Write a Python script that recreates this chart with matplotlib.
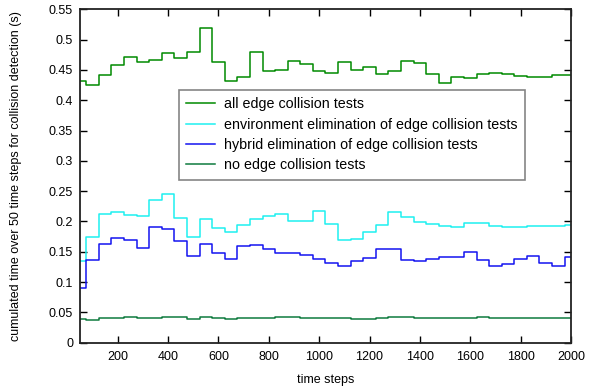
import numpy as np
import matplotlib
matplotlib.use("Agg")
import matplotlib.pyplot as plt

plt.rcParams['font.family'] = ['Liberation Sans', 'DejaVu Sans']

time_steps = list(range(50, 2001, 50))

all_edge = [0.4325, 0.4253, 0.4418, 0.4588, 0.4709, 0.4632, 0.467, 0.478, 0.470, 0.4797,
            0.520, 0.463, 0.4314, 0.438, 0.480, 0.448, 0.450, 0.465, 0.4605, 0.448,
            0.4446, 0.463, 0.4495, 0.455, 0.443, 0.4484, 0.4654, 0.4621, 0.443, 0.4286,
            0.4385, 0.436, 0.444, 0.4457, 0.443, 0.4396, 0.438, 0.439, 0.441, 0.441]

env_elim = [0.1344, 0.1738, 0.2122, 0.2155, 0.210, 0.2083, 0.235, 0.2456, 0.206, 0.1744,
            0.2044, 0.1889, 0.1822, 0.1933, 0.2044, 0.2089, 0.2122, 0.201, 0.201, 0.2172,
            0.1955, 0.170, 0.171, 0.182, 0.1944, 0.2156, 0.2066, 0.1983, 0.195, 0.1928,
            0.1911, 0.1972, 0.1972, 0.1928, 0.190, 0.190, 0.1922, 0.1922, 0.1928, 0.1944]

hybrid_elim = [0.090, 0.1366, 0.1627, 0.1727, 0.1689, 0.156, 0.1905, 0.1877, 0.1672, 0.1427,
               0.1622, 0.1483, 0.1383, 0.1589, 0.1605, 0.1544, 0.1472, 0.1472, 0.1439, 0.1383,
               0.1316, 0.1272, 0.1344, 0.140, 0.1544, 0.1544, 0.1366, 0.1339, 0.1378, 0.1411,
               0.1411, 0.1494, 0.1356, 0.1261, 0.1294, 0.1378, 0.1422, 0.1311, 0.1261, 0.1411]

no_edge = [0.039, 0.0373, 0.0401, 0.0412, 0.0417, 0.0412, 0.0412, 0.0423, 0.0423, 0.039,
           0.0423, 0.0401, 0.039, 0.0412, 0.0406, 0.0406, 0.0423, 0.0417, 0.0406, 0.0406,
           0.0406, 0.0400, 0.0395, 0.0395, 0.0406, 0.0428, 0.0417, 0.0406, 0.0406, 0.0406,
           0.0406, 0.0412, 0.0423, 0.0401, 0.0412, 0.0406, 0.0406, 0.0406, 0.0412, 0.0412]

labels = ["all edge collision tests",
          "environment elimination of edge collision tests",
          "hybrid elimination of edge collision tests",
          "no edge collision tests"]
colors = ["#008a00", "#1ef0f0", "#1414f0", "#0e7a3e"]

fig = plt.figure(figsize=(5.97, 3.89), dpi=100)
ax = fig.add_axes([0.134, 0.1193, 0.8224, 0.8567])

for series, lab, col in zip([all_edge, env_elim, hybrid_elim, no_edge], labels, colors):
    ax.step(time_steps, series, where='mid', color=col, lw=1.1, label=lab)

ax.set_xlim(50, 2000)
ax.set_ylim(0, 0.55)
ax.set_xticks(range(200, 2001, 200))
ax.set_yticks(np.round(np.arange(0, 0.551, 0.05), 2))
ax.set_yticklabels(['0'] + ['%g' % v for v in np.round(np.arange(0.05, 0.551, 0.05), 2)])
ax.tick_params(direction='in', top=True, right=True, length=5, width=1, labelsize=9)
ax.tick_params(axis='y', pad=5)
ax.tick_params(axis='x', pad=6)
for s in ax.spines.values():
    s.set_linewidth(1.3)
    s.set_color('#222222')

ax.set_xlabel("time steps", fontsize=9, labelpad=8)
ax.set_ylabel("cumulated time over 50 time steps for collision detection (s)", fontsize=9, labelpad=19)

leg = ax.legend(loc='upper left', bbox_to_anchor=(0.2016, 0.758), borderaxespad=0,
                fontsize=10.3, frameon=True, fancybox=False, edgecolor='#666666',
                handlelength=2.0, handletextpad=0.65, labelspacing=0.45, borderpad=0.5)
leg.get_frame().set_linewidth(1.2)

fig.savefig("out.png", dpi=100)
